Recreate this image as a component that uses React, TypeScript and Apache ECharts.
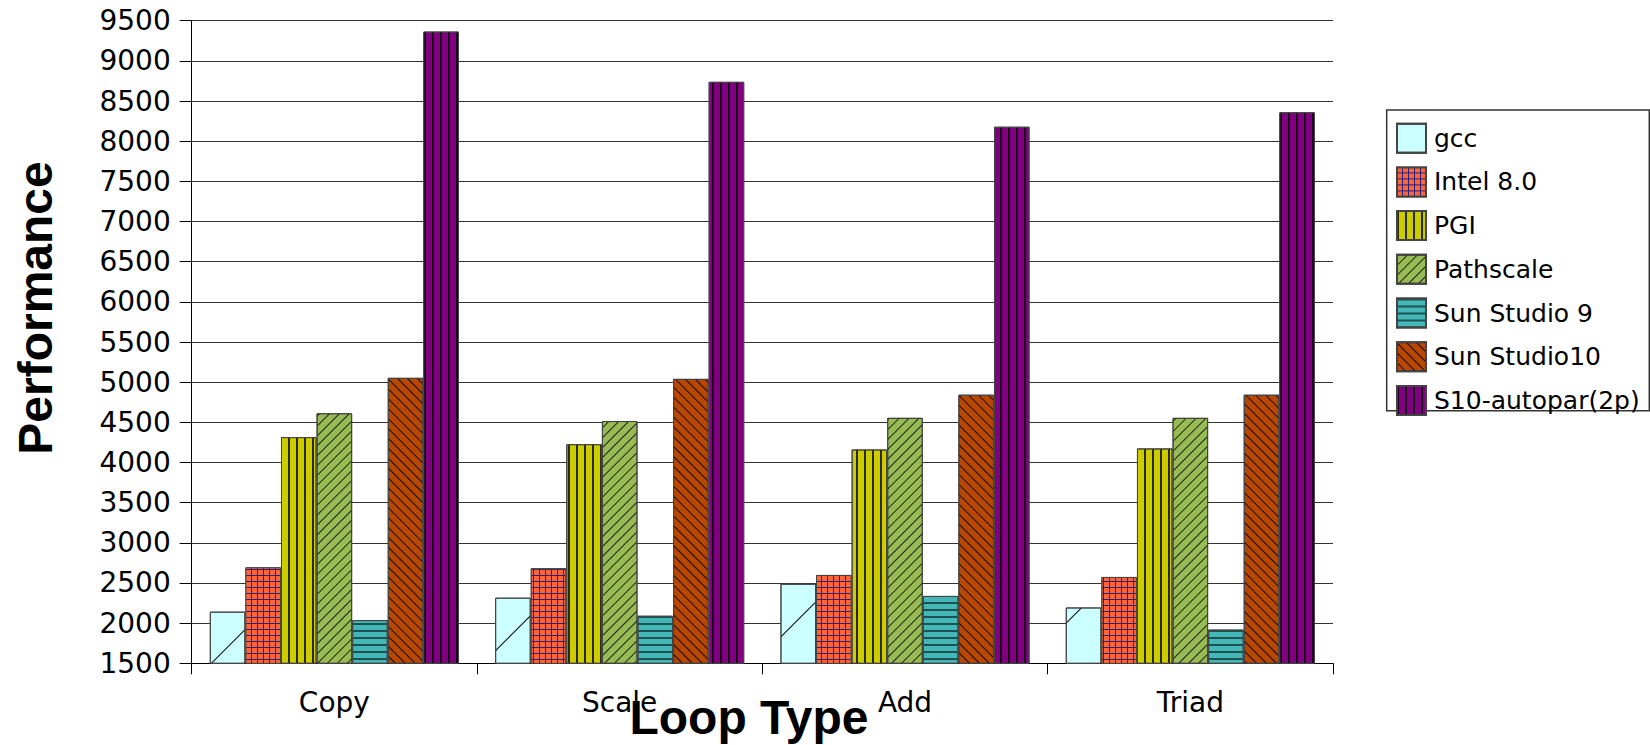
import React, { useEffect, useRef } from 'react';
import * as echarts from 'echarts';

const categories = ['Copy', 'Scale', 'Add', 'Triad'];
const seriesNames = ['gcc', 'Intel 8.0', 'PGI', 'Pathscale', 'Sun Studio 9', 'Sun Studio10', 'S10-autopar(2p)'];
const gccValues = [2143, 2317, 2490, 2195];
const intelValues = [2695, 2683, 2600, 2575];
const pgiValues = [4316, 4228, 4162, 4175];
const pathscaleValues = [4613, 4516, 4556, 4556];
const sun9Values = [2038, 2092, 2339, 1920];
const sun10Values = [5054, 5041, 4844, 4844];
const s10Values = [9365, 8739, 8180, 8360];
const yMin = 1500;
const yMax = 9500;
const yInterval = 500;
const yTitle = 'Performance';
const xTitle = 'Loop Type';

const seriesValues = [gccValues, intelValues, pgiValues, pathscaleValues, sun9Values, sun10Values, s10Values];

const lineDecal = (color: string, dx: number[], dy: number[], rotation = 0) => ({
  symbol: 'rect',
  symbolSize: 1,
  symbolKeepAspect: false,
  color,
  dashArrayX: dx,
  dashArrayY: dy,
  rotation,
});

const itemStyles = [
  { color: '#CCFFFF', decal: lineDecal('#000000', [1, 0], [0, 42, 1, 149], -Math.PI / 4) },
  { color: '#22208A', decal: lineDecal('#FF6633', [5, 1], [5, 1]) },
  { color: '#CCCC00', decal: lineDecal('#2A2A00', [2, 6], [1, 0]) },
  { color: '#99BB55', decal: lineDecal('#1A2A00', [1, 0], [1, 6], -Math.PI / 4) },
  { color: '#44B8B8', decal: lineDecal('#1E5252', [1, 0], [2, 5]) },
  { color: '#B84800', decal: lineDecal('#1A0A00', [1, 0], [1, 6], Math.PI / 4) },
  { color: '#800080', decal: lineDecal('#1A001A', [2, 6], [1, 0]) },
];

const FONT = 'DejaVu Sans';
const TITLE_FONT = 'Liberation Sans';

export default function App() {
  const ref = useRef<HTMLDivElement>(null);

  useEffect(() => {
    if (!ref.current) return;
    const chart = echarts.init(ref.current, undefined, { renderer: 'svg' });
    const option: any = {
      animation: false,
      backgroundColor: '#ffffff',
      grid: { left: 191.7, top: 20.7, right: 317, bottom: 81.7, containLabel: false },
      xAxis: {
        type: 'category',
        data: categories,
        axisLine: { show: true, lineStyle: { color: '#000', width: 1 } },
        axisTick: { show: true, alignWithLabel: false, length: 11, lineStyle: { color: '#000', width: 1 } },
        axisLabel: { interval: 0, margin: 25, fontSize: 28, fontFamily: FONT, color: '#000' },
        splitLine: { show: false },
      },
      yAxis: {
        type: 'value',
        min: yMin,
        max: yMax,
        interval: yInterval,
        axisLine: { show: true, lineStyle: { color: '#000', width: 1 } },
        axisTick: { show: true, length: 12, lineStyle: { color: '#000', width: 1 } },
        axisLabel: {
          margin: 21,
          fontSize: 28,
          fontFamily: FONT,
          color: '#000',
          formatter: (v: number) => String(v),
        },
        splitLine: { show: true, lineStyle: { color: '#333', width: 1 } },
      },
      legend: {
        orient: 'vertical',
        left: 1396,
        top: 122.7,
        padding: 0,
        itemWidth: 29,
        itemHeight: 29,
        itemGap: 12.7,
        icon: 'rect',
        selectedMode: false,
        data: seriesNames,
        textStyle: { fontSize: 25, fontFamily: FONT, color: '#000', padding: [0, 0, 0, 3] },
      },
      graphic: [
        {
          type: 'rect',
          shape: { x: 1386.7, y: 110, width: 262.6, height: 300.7 },
          style: { fill: 'none', stroke: '#333', lineWidth: 1.5 },
          silent: true,
        },
        {
          type: 'text',
          x: 35,
          y: 308,
          rotation: Math.PI / 2,
          style: {
            text: yTitle,
            fontSize: 48,
            fontWeight: 'bold',
            fontFamily: TITLE_FONT,
            fill: '#000',
            textAlign: 'center',
            textVerticalAlign: 'middle',
          },
        },
        {
          type: 'text',
          x: 749,
          y: 717,
          z: 100,
          style: {
            text: xTitle,
            fontSize: 48,
            fontWeight: 'bold',
            fontFamily: TITLE_FONT,
            fill: '#000',
            textAlign: 'center',
            textVerticalAlign: 'middle',
          },
        },
      ],
      series: seriesNames.map((name, i) => ({
        name,
        type: 'bar',
        data: seriesValues[i],
        barGap: '0%',
        barCategoryGap: '12.7%',
        itemStyle: { ...itemStyles[i], borderColor: '#444', borderWidth: 1 },
        emphasis: { disabled: true },
      })),
    };
    chart.setOption(option);
    return () => chart.dispose();
  }, []);

  return (
    <div
      ref={ref}
      style={{ position: 'absolute', left: 0, top: 0, width: 1650, height: 745, background: '#fff' }}
    />
  );
}
